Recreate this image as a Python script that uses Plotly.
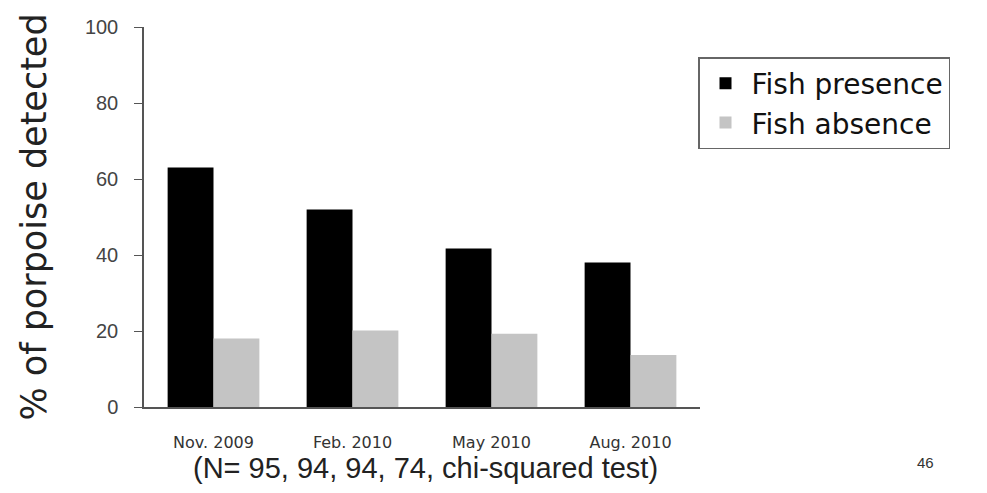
import plotly.graph_objects as go

categories = ["Nov. 2009", "Feb. 2010", "May 2010", "Aug. 2010"]
fish_presence = [63.0, 52.0, 41.7, 38.0]
fish_absence = [18.0, 20.1, 19.3, 13.7]
y_ticks = [0, 20, 40, 60, 80, 100]
subtitle = "(N= 95, 94, 94, 74, chi-squared test)"
page_number = "46"

fig = go.Figure()
fig.add_trace(go.Bar(x=categories, y=fish_presence, name="Fish presence",
                     marker=dict(color="#000000", line=dict(width=0))))
fig.add_trace(go.Bar(x=categories, y=fish_absence, name="Fish absence",
                     marker=dict(color="#c4c4c4", line=dict(width=0))))

fig.update_layout(
    width=987, height=493,
    margin=dict(l=144, r=287, t=27, b=86, autoexpand=False),
    paper_bgcolor="white", plot_bgcolor="white",
    barmode="group", bargap=0.34, bargroupgap=0,
    font=dict(family="Liberation Sans, Arial, sans-serif", color="#333"),
    legend=dict(
        x=(698 - 144) / 556, xanchor="left", y=(407 - 57) / 380, yanchor="top",
        bordercolor="#666", borderwidth=1.5, bgcolor="white",
        font=dict(size=28, color="#111", family="DejaVu Sans, sans-serif"),
        tracegroupgap=0, itemwidth=42,
    ),
    xaxis=dict(
        range=[-0.5, 3.5], showline=True, linecolor="#555", linewidth=1.5,
        ticks="", showgrid=False, zeroline=False, automargin=False,
        tickfont=dict(size=16, family="DejaVu Sans, sans-serif", color="#333"),
        ticklabelstandoff=20,
    ),
    yaxis=dict(
        range=[0, 100], tickvals=y_ticks, showline=True, linecolor="#555", linewidth=1.5,
        ticks="outside", ticklen=8, tickcolor="#555", tickwidth=1.2,
        showgrid=False, zeroline=False, automargin=False,
        tickfont=dict(size=20, color="#444"),
        ticklabelstandoff=12,
        title=dict(text="% of porpoise detected", standoff=28,
                   font=dict(size=35, family="DejaVu Sans, sans-serif", color="#222")),
    ),
    annotations=[
        dict(text=subtitle, xref="paper", yref="paper", x=(425 - 144) / 556, y=(407 - 468) / 380,
             xanchor="center", yanchor="middle", showarrow=False,
             font=dict(size=29, color="#222", family="Liberation Sans, Arial, sans-serif")),
        dict(text=page_number, xref="paper", yref="paper", x=(925 - 144) / 556, y=(407 - 462) / 380,
             xanchor="center", yanchor="middle", showarrow=False,
             font=dict(size=15, color="#333", family="Liberation Sans, Arial, sans-serif")),
    ],
)

fig.write_html("out.html", config={"displayModeBar": False},
               post_script="document.body.style.margin='0';")
